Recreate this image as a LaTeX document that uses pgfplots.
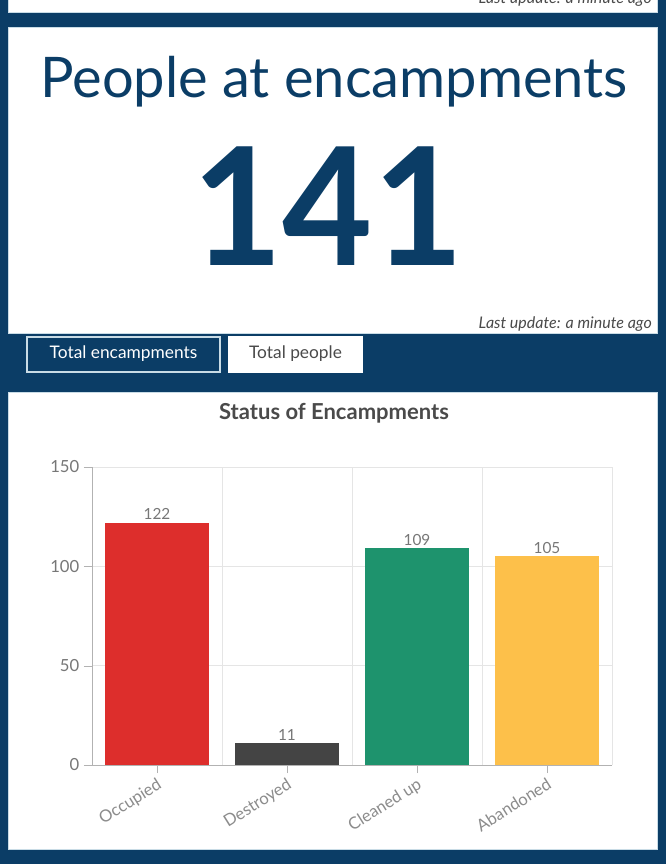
\documentclass[border=0pt]{standalone}
\usepackage{pgfplots}
\pgfplotsset{compat=1.18}
\usepackage{fontspec}
\setmainfont{Lato}
\definecolor{navy}{HTML}{0B3D66}
\definecolor{paneledge}{HTML}{C9DCE6}
\definecolor{txtgray}{HTML}{777777}
\definecolor{lblgray}{HTML}{8C8C8C}
\definecolor{titlegray}{HTML}{4A4A4A}
\definecolor{barred}{HTML}{DD2E2C}
\definecolor{bargray}{HTML}{444444}
\definecolor{bargreen}{HTML}{1E936D}
\definecolor{baryellow}{HTML}{FDC04A}

\begin{document}
\begin{tikzpicture}
% dashboard frame, pixel units (1px = 0.75pt, y downwards)
\begin{scope}[x=0.75pt,y=-0.75pt]
\clip (0,0) rectangle (666,864);
\fill[navy] (0,0) rectangle (666,864);
% strip of the panel above
\filldraw[fill=white, draw=paneledge] (8,-10) rectangle (657,12);
\node[anchor=base east, inner sep=0, text=titlegray,
  font=\itshape\fontsize{12}{14}\selectfont] at (652,3) {Last update: a minute ago};
% indicator panel
\filldraw[fill=white, draw=paneledge] (8,27) rectangle (657,333);
\node[anchor=base, inner sep=0, text=navy,
  font=\fontsize{42}{46}\selectfont] at (334,97) {People at encampments};
\node[anchor=base, inner sep=0, text=navy, xscale=0.95,
  font=\bfseries\fontsize{123}{126}\selectfont] at (328,265) {141};
\node[anchor=base east, inner sep=0, text=titlegray,
  font=\itshape\fontsize{12}{14}\selectfont] at (652,328) {Last update: a minute ago};
% tabs
\filldraw[fill=navy, draw=paneledge, line width=1pt] (27,337) rectangle (220,372);
\node[text=white, font=\fontsize{13}{15}\selectfont] at (123.5,354) {Total encampments};
\fill[white] (228,336) rectangle (363,373);
\node[text=titlegray, font=\fontsize{13}{15}\selectfont] at (295.5,354) {Total people};
% chart panel
\filldraw[fill=white, draw=paneledge] (8,392) rectangle (657,849);
\node[text=titlegray, font=\bfseries\fontsize{16.5}{19}\selectfont] at (334,413) {Status of Encampments};
\end{scope}

\begin{axis}[
  at={(69pt,-573.75pt)}, anchor=south west,
  scale only axis, width=390pt, height=223.5pt,
  xmin=-0.5, xmax=3.5, ymin=0, ymax=150,
  ybar, bar width=78pt,
  xtick={0,1,2,3},
  xticklabels={Occupied,Destroyed,Cleaned up,Abandoned},
  minor xtick={0.5,1.5,2.5,3.5},
  ytick={0,50,100,150},
  xminorgrids, ymajorgrids,
  minor grid style={draw=black!10},
  major grid style={draw=black!10},
  axis x line*=bottom, axis y line*=left,
  axis line style={draw=black!30, -},
  tick style={draw=black!30},
  major tick length=6pt, minor tick length=0pt,
  xtick align=outside, ytick align=outside,
  /pgf/number format/assume math mode=true,
  y tick label style={text=txtgray, font=\fontsize{12.5}{14}\selectfont},
  x tick label style={rotate=32, anchor=north east, inner sep=2pt,
    text=lblgray, font=\fontsize{12.5}{14}\selectfont},
  nodes near coords,
  nodes near coords style={text=txtgray, font=\fontsize{11.5}{13}\selectfont, anchor=south, inner sep=2pt},
  every axis plot/.append style={draw=none, bar shift=0pt},
]
\addplot[fill=barred] coordinates {(0,122)};
\addplot[fill=bargray] coordinates {(1,11)};
\addplot[fill=bargreen] coordinates {(2,109)};
\addplot[fill=baryellow] coordinates {(3,105)};
\end{axis}
\end{tikzpicture}
\end{document}
